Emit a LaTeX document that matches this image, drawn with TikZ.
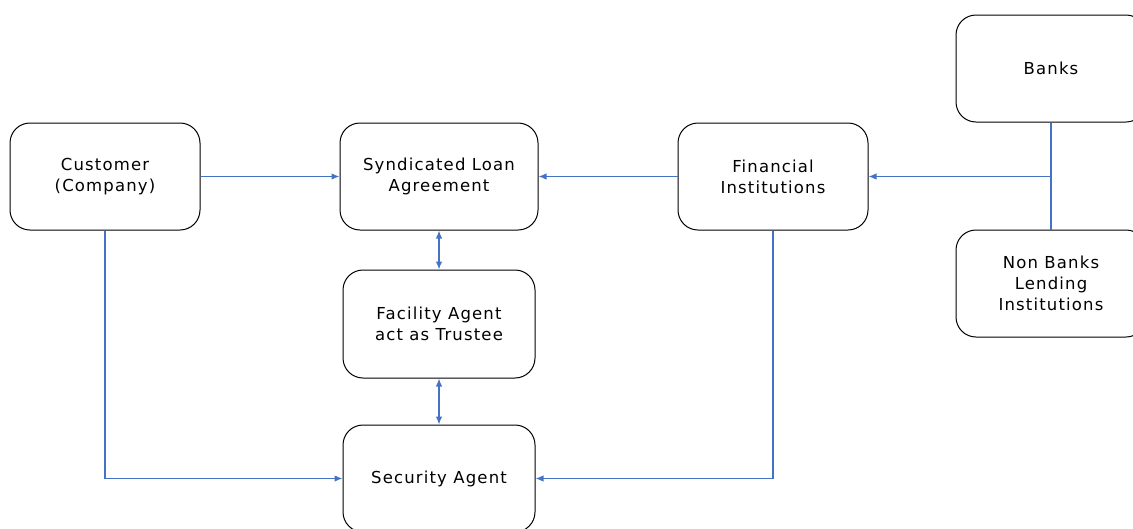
\documentclass[tikz,border=0pt]{standalone}
\usepackage{fontspec}
\setmainfont[LetterSpace=7]{DejaVu Sans}
\usetikzlibrary{arrows.meta,calc}
\definecolor{lineblue}{HTML}{4472C4}
\tikzset{
  box/.style={draw=black, line width=1pt, rounded corners=20pt, minimum width=190pt, minimum height=107pt, align=center, font=\fontsize{16.5}{21}\selectfont, inner sep=0pt},
  conn/.style={draw=lineblue, line width=1.3pt, -{Latex[length=8pt,width=6.5pt]}},
  dconn/.style={draw=lineblue, line width=1.3pt, {Latex[length=8pt,width=6.5pt]}-{Latex[length=8pt,width=6.5pt]}},
  plain/.style={draw=lineblue, line width=1.3pt}
}
\begin{document}
\begin{tikzpicture}[x=1pt,y=-1pt]
\useasboundingbox (0,0) rectangle (1133,528);
\clip (0,0) rectangle (1133,528);
\node[box] (cust) at (105,176.5) {Customer\\(Company)};
\node[box, minimum width=198pt] (synd) at (439,176.5) {Syndicated Loan\\Agreement};
\node[box] (fin) at (773,176.5) {Financial\\Institutions};
\node[box] (banks) at (1051,68.5) {Banks};
\node[box] (nonb) at (1051,283.5) {Non Banks\\Lending\\Institutions};
\node[box, minimum width=192pt, minimum height=108pt] (fac) at (439,324) {Facility Agent\\act as Trustee};
\node[box, minimum width=192pt] (sec) at (439,478.5) {Security Agent};
\coordinate (junc) at (banks.south |- fin.east);
\draw[conn] (cust.east) -- (synd.west);
\draw[conn] (fin.west) -- (synd.east);
\draw[plain] (banks.south) -- (nonb.north);
\draw[conn] (junc) -- (fin.east);
\draw[conn] (cust.south) |- (sec.west);
\draw[conn] (fin.south) |- (sec.east);
\draw[dconn] (synd.south) -- (fac.north);
\draw[dconn] (fac.south) -- (sec.north);
\end{tikzpicture}
\end{document}
